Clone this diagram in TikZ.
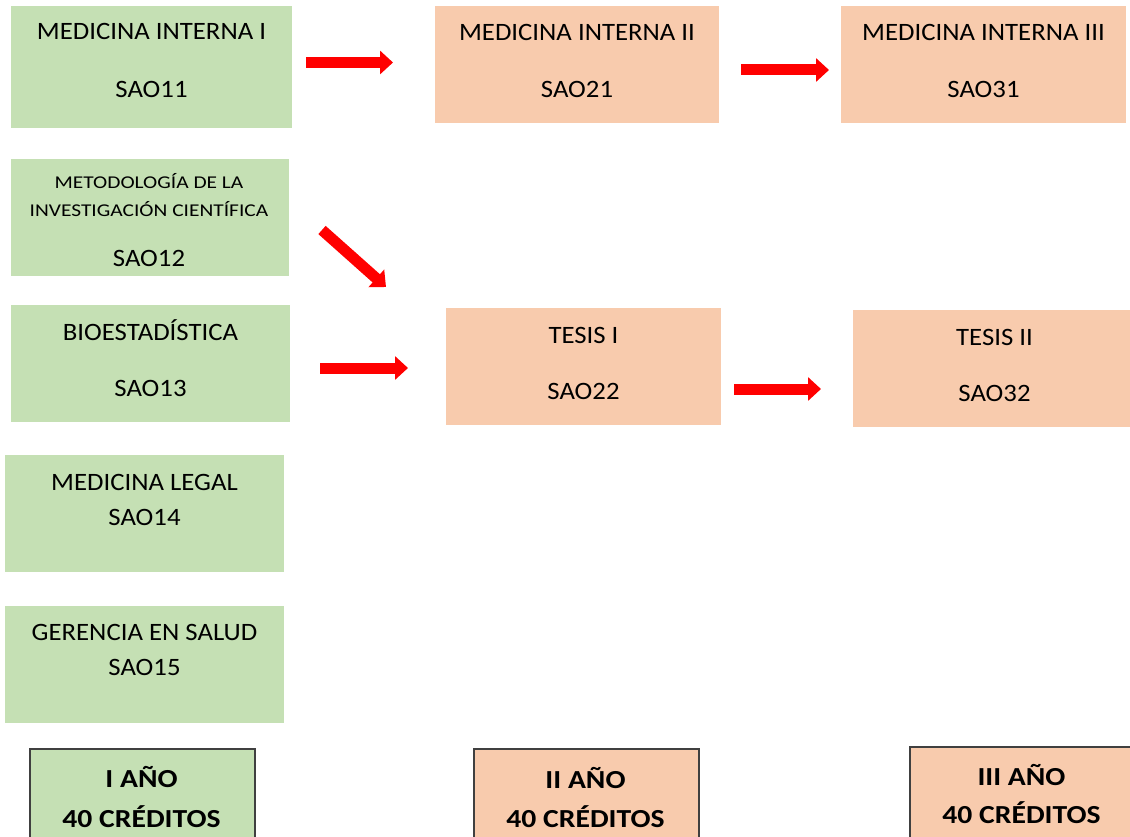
\documentclass[tikz,border=0pt]{standalone}
\usepackage{fontspec}
\setmainfont{Carlito}[FakeStretch=1.07]
\newfontfamily\smallfont{Carlito}[FakeStretch=1.19]
\newfontfamily\yearfont{Carlito}[FakeStretch=1.14]
\usetikzlibrary{arrows.meta}

\definecolor{verde}{HTML}{C5E0B4}
\definecolor{salmon}{HTML}{F8CBAD}

\begin{document}
\begin{tikzpicture}[
  x=1pt, y=-1pt,
  % course boxes
  gbox/.style={rectangle, fill=verde, anchor=north west, inner sep=0pt},
  sbox/.style={rectangle, fill=salmon, anchor=north west, inner sep=0pt},
  yearbox/.style={rectangle, draw=black!75, line width=1.5pt, anchor=north west, inner sep=0pt},
  % texts
  txt/.style={anchor=base, inner sep=0pt, font=\fontsize{25}{30}\selectfont},
  smalltxt/.style={anchor=base, inner sep=0pt, font=\smallfont\fontsize{18}{21}\selectfont},
  yeartxt/.style={anchor=base, inner sep=0pt, font=\yearfont\fontsize{26}{31}\selectfont\bfseries},
  % arrows
  redarrow/.style={red, line width=11pt, -{Triangle[length=13pt, width=23pt]}}
]
\useasboundingbox (0,0) rectangle (1130,837);

% first year
\node[gbox, minimum width=281pt, minimum height=122pt] (MI1) at (11,6) {};
\node[txt] (MI1a) at (151.5,40) {MEDICINA INTERNA I};
\node[txt] (MI1b) at (151.5,98) {SAO11};

\node[gbox, minimum width=278pt, minimum height=117pt] (MIC) at (11,159) {};
\node[smalltxt] (MICa) at (149,189) {METODOLOGÍA DE LA};
\node[smalltxt] (MICb) at (149,217) {INVESTIGACIÓN CIENTÍFICA};
\node[txt] (MICc) at (149,266.5) {SAO12};

\node[gbox, minimum width=279pt, minimum height=117pt] (BIO) at (11,305) {};
\node[txt] (BIOa) at (150.5,340.5) {BIOESTADÍSTICA};
\node[txt] (BIOb) at (150.5,396.5) {SAO13};

\node[gbox, minimum width=279pt, minimum height=117pt] (ML) at (5,455) {};
\node[txt] (MLa) at (144.5,490.5) {MEDICINA LEGAL};
\node[txt] (MLb) at (144.5,525.5) {SAO14};

\node[gbox, minimum width=279pt, minimum height=117pt] (GS) at (5,606) {};
\node[txt] (GSa) at (144.5,640.5) {GERENCIA EN SALUD};
\node[txt] (GSb) at (144.5,675.5) {SAO15};

% second year
\node[sbox, minimum width=284pt, minimum height=117pt] (MI2) at (435,6) {};
\node[txt] (MI2a) at (577,40.5) {MEDICINA INTERNA II};
\node[txt] (MI2b) at (577,97.5) {SAO21};

\node[sbox, minimum width=275pt, minimum height=117pt] (T1) at (446,308) {};
\node[txt] (T1a) at (583.5,343.5) {TESIS I};
\node[txt] (T1b) at (583.5,399.5) {SAO22};

% third year
\node[sbox, minimum width=285pt, minimum height=117pt] (MI3) at (841,6) {};
\node[txt] (MI3a) at (983.5,40.5) {MEDICINA INTERNA III};
\node[txt] (MI3b) at (983.5,97.5) {SAO31};

\node[sbox, minimum width=283pt, minimum height=117pt] (T2) at (853,310) {};
\node[txt] (T2a) at (994.5,345.5) {TESIS II};
\node[txt] (T2b) at (994.5,401.5) {SAO32};

% years
\node[yearbox, fill=verde, minimum width=225pt, minimum height=110pt] (Y1) at (29,748) {};
\node[yeartxt] (Y1a) at (141.5,787) {I AÑO};
\node[yeartxt] (Y1b) at (141.5,827) {40 CRÉDITOS};

\node[yearbox, fill=salmon, minimum width=225pt, minimum height=110pt] (Y2) at (473,748) {};
\node[yeartxt] (Y2a) at (585.5,788) {II AÑO};
\node[yeartxt] (Y2b) at (585.5,827) {40 CRÉDITOS};

\node[yearbox, fill=salmon, minimum width=225pt, minimum height=110pt] (Y3) at (909,746) {};
\node[yeartxt] (Y3a) at (1021.5,785) {III AÑO};
\node[yeartxt] (Y3b) at (1021.5,823) {40 CRÉDITOS};

% arrows
\coordinate (a1s) at (306,62.5);  \coordinate (a1e) at (393,62.5);
\coordinate (a2s) at (741,70);    \coordinate (a2e) at (829,70);
\coordinate (a3s) at (322,230);   \coordinate (a3e) at (386,287);
\coordinate (a4s) at (320,368);   \coordinate (a4e) at (408,368);
\coordinate (a5s) at (734,389);   \coordinate (a5e) at (821,389);
\draw[redarrow] (a1s) -- (a1e);
\draw[redarrow] (a2s) -- (a2e);
\draw[redarrow] (a3s) -- (a3e);
\draw[redarrow] (a4s) -- (a4e);
\draw[redarrow] (a5s) -- (a5e);

\end{tikzpicture}
\end{document}
